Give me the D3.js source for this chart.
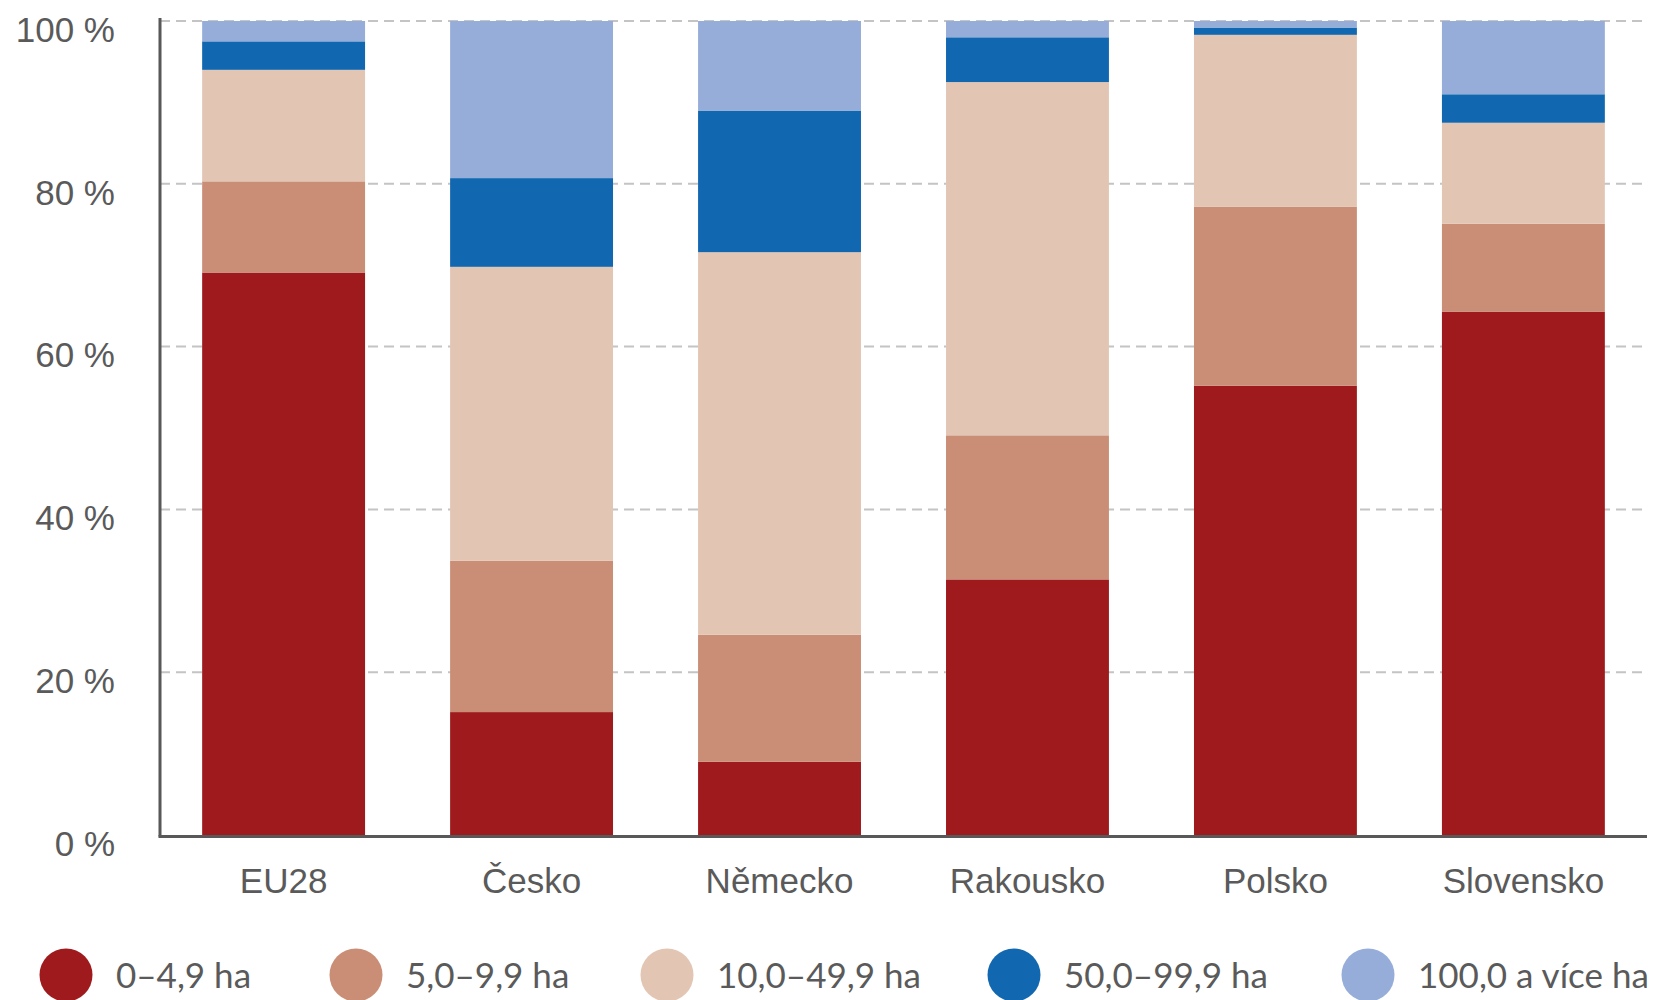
<!DOCTYPE html>
<html>
<head>
<meta charset="utf-8">
<script src="https://cdn.jsdelivr.net/npm/d3@7"></script>
<style>
  html, body { margin: 0; padding: 0; background: #ffffff; }
  svg { display: block; font-family: Lato, "Open Sans", sans-serif; }
</style>
</head>
<body>
<div id="chart"></div>
<script>
// Chart data (shares in %)
const countries = ["EU28", "Česko", "Německo", "Rakousko", "Polsko", "Slovensko"];
const sizeClasses = ["0–4,9 ha", "5,0–9,9 ha", "10,0–49,9 ha", "50,0–99,9 ha", "100,0 a více ha"];
const share0to5 = [69.1, 15.1, 9.0, 31.4, 55.2, 64.3];
const share5to10 = [11.2, 18.6, 15.6, 17.7, 22.0, 10.8];
const share10to50 = [13.7, 36.1, 47.0, 43.4, 21.1, 12.4];
const share50to100 = [3.5, 10.9, 17.4, 5.5, 0.9, 3.5];
const share100plus = [2.5, 19.3, 11.0, 2.0, 0.8, 9.0];
const yTicks = [0, 20, 40, 60, 80, 100];
const classColors = ["#9f1a1d", "#ca8d75", "#e3c5b4", "#1268b0", "#96add9"];

// Layout, all in one place
var width = 1665;
var height = 1000;
var margin = ({ top: 21, right: 18, bottom: 165, left: 160 });
var textColor = "#5a5a5a";
var axisColor = "#585858";
var gridColor = "#c4c4c4";
var legendX = [66, 356, 667, 1014, 1368];
var legendY = 975;

// Build rows for the stack from the series arrays
const seriesList = [share0to5, share5to10, share10to50, share50to100, share100plus];
const rows = countries.map((c, i) => {
    const row = { country: c };
    sizeClasses.forEach((k, j) => { row[k] = seriesList[j][i]; });
    return row;
});
const stacked = d3.stack().keys(sizeClasses)(rows);

var svg = d3.select("#chart").append("svg")
    .attr("width", width)
    .attr("height", height);

const xScale = d3.scaleBand()
    .domain(countries)
    .range([margin.left, width - margin.right])
    .paddingInner(0.343)
    .paddingOuter(0.17);

const yScale = d3.scaleLinear()
    .domain([0, 100])
    .range([height - margin.bottom, margin.top]);

const color = d3.scaleOrdinal().domain(sizeClasses).range(classColors);

// Dashed grid lines behind the bars
svg.append("g")
    .selectAll("line")
    .data(yTicks.filter(d => d > 0))
    .enter()
    .append("line")
    .attr("x1", margin.left)
    .attr("x2", width - margin.right)
    .attr("y1", d => yScale(d))
    .attr("y2", d => yScale(d))
    .attr("stroke", gridColor)
    .attr("stroke-width", 2)
    .attr("stroke-dasharray", "10,6");

// Stacked bars
svg.append("g")
    .selectAll("g")
    .data(stacked)
    .enter()
    .append("g")
    .attr("fill", d => color(d.key))
    .selectAll("rect")
    .data(d => d)
    .enter()
    .append("rect")
    .attr("x", d => xScale(d.data.country))
    .attr("y", d => yScale(d[1]))
    .attr("height", d => yScale(d[0]) - yScale(d[1]))
    .attr("width", xScale.bandwidth());

// Y axis: tick labels only, with a heavy vertical line
const yAxis = g => g
    .attr("transform", `translate(${margin.left}, 0)`)
    .call(d3.axisLeft(yScale)
        .tickValues(yTicks)
        .tickSize(0)
        .tickPadding(45)
        .tickFormat(d => d + " %"))
    .call(g => g.select(".domain").remove())
    .call(g => g.selectAll("text")
        .attr("fill", textColor)
        .attr("font-size", "35px")
        .attr("dy", "0.58em"));

svg.append("g").call(yAxis);

// X axis: category labels
const xAxis = g => g
    .attr("transform", `translate(0, ${height - margin.bottom})`)
    .call(d3.axisBottom(xScale).tickSize(0).tickPadding(33))
    .call(g => g.select(".domain").remove())
    .call(g => g.selectAll("text")
        .attr("fill", textColor)
        .attr("font-size", "35px"));

svg.append("g").call(xAxis);

// Axis lines drawn on top
svg.append("line")
    .attr("x1", margin.left)
    .attr("x2", margin.left)
    .attr("y1", margin.top - 3)
    .attr("y2", yScale(0) + 1.5)
    .attr("stroke", axisColor)
    .attr("stroke-width", 3);
svg.append("line")
    .attr("x1", margin.left - 1.5)
    .attr("x2", width - margin.right)
    .attr("y1", yScale(0) + 1.5)
    .attr("y2", yScale(0) + 1.5)
    .attr("stroke", axisColor)
    .attr("stroke-width", 3);

// Legend
var legend = svg.append("g")
    .selectAll("g")
    .data(sizeClasses)
    .enter()
    .append("g")
    .attr("transform", (d, i) => `translate(${legendX[i]}, ${legendY})`);
legend.append("circle")
    .attr("r", 26.5)
    .attr("fill", d => color(d));
legend.append("text")
    .attr("x", 50)
    .attr("y", 13)
    .attr("fill", textColor)
    .attr("font-size", "35px")
    .text(d => d);
</script>
</body>
</html>
